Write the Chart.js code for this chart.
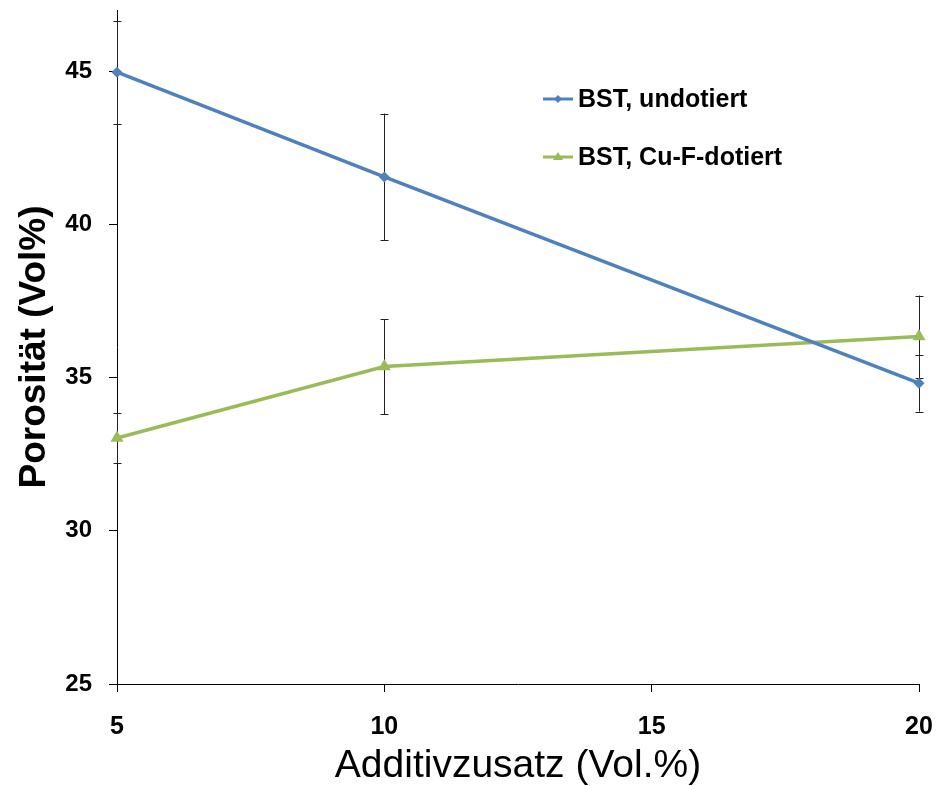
<!DOCTYPE html>
<html>
<head>
<meta charset="utf-8">
<script src="https://cdn.jsdelivr.net/npm/chart.js@4"></script>
<style>
  html, body { margin: 0; padding: 0; background: #fff; }
  #chart { display: block; }
</style>
</head>
<body>
<canvas id="chart" width="941" height="786"></canvas>
<script>
// Werte
const additiv = [5, 10, 20];
const undotiert = [44.97, 41.55, 34.82];
const undotiertFehler = [1.68, 2.07, 0.93];
const cuFdotiert = [33.03, 35.36, 36.34];
const cuFdotiertFehler = [0.82, 1.55, 1.34];
const xTicks = [5, 10, 15, 20];
const yTicks = [25, 30, 35, 40, 45];
const serienNamen = ['BST, undotiert', 'BST, Cu-F-dotiert'];

const BLAU = '#4F81BD';
const GRUEN = '#9BBB59';
const SCHRIFT = "'Liberation Sans', Arial, sans-serif";

// Fehlerbalken (nicht in Chart.js enthalten)
const fehlerBalken = {
    id: 'fehlerBalken',
    beforeDatasetsDraw(chart) {
        const ctx = chart.ctx;
        const xs = chart.scales.x, ys = chart.scales.y;
        const fehler = [undotiertFehler, cuFdotiertFehler];
        ctx.save();
        ctx.strokeStyle = '#222';
        ctx.lineWidth = 1;
        chart.data.datasets.forEach((ds, i) => {
            ds.data.forEach((p, j) => {
                const px = Math.round(xs.getPixelForValue(p.x)) + 0.5;
                const y1 = ys.getPixelForValue(p.y + fehler[i][j]);
                const y2 = ys.getPixelForValue(p.y - fehler[i][j]);
                ctx.beginPath();
                ctx.moveTo(px, y1); ctx.lineTo(px, y2);
                ctx.moveTo(px - 4, Math.round(y1) + 0.5); ctx.lineTo(px + 4, Math.round(y1) + 0.5);
                ctx.moveTo(px - 4, Math.round(y2) + 0.5); ctx.lineTo(px + 4, Math.round(y2) + 0.5);
                ctx.stroke();
            });
        });
        ctx.restore();
    }
};

// Legende im Diagrammbereich
const legende = {
    id: 'legende',
    afterDraw(chart) {
        const ctx = chart.ctx;
        const zeilen = [
            { text: serienNamen[0], farbe: BLAU, form: 'raute', y: 99 },
            { text: serienNamen[1], farbe: GRUEN, form: 'dreieck', y: 157 }
        ];
        ctx.save();
        zeilen.forEach(z => {
            ctx.strokeStyle = z.farbe;
            ctx.fillStyle = z.farbe;
            ctx.lineWidth = 3;
            ctx.beginPath();
            ctx.moveTo(543, z.y); ctx.lineTo(573, z.y);
            ctx.stroke();
            ctx.beginPath();
            if (z.form === 'raute') {
                ctx.moveTo(558, z.y - 4); ctx.lineTo(562, z.y); ctx.lineTo(558, z.y + 4); ctx.lineTo(554, z.y);
            } else {
                ctx.moveTo(558, z.y - 5); ctx.lineTo(563, z.y + 3); ctx.lineTo(553, z.y + 3);
            }
            ctx.closePath();
            ctx.fill();
            ctx.fillStyle = '#000';
            ctx.font = 'bold 25px ' + SCHRIFT;
            ctx.textBaseline = 'middle';
            ctx.textAlign = 'left';
            ctx.fillText(z.text, 578, z.y + 1);
        });
        ctx.restore();
    }
};

const ctx = document.getElementById('chart').getContext('2d');
new Chart(ctx, {
    type: 'line',
    data: {
        datasets: [{
            label: serienNamen[0],
            data: additiv.map((x, i) => ({ x: x, y: undotiert[i] })),
            borderColor: BLAU,
            backgroundColor: BLAU,
            borderWidth: 3.5,
            pointStyle: 'rectRot',
            pointRadius: 5.5,
            pointBorderWidth: 0,
            tension: 0,
            clip: false
        }, {
            label: serienNamen[1],
            data: additiv.map((x, i) => ({ x: x, y: cuFdotiert[i] })),
            borderColor: GRUEN,
            backgroundColor: GRUEN,
            borderWidth: 3.5,
            pointStyle: 'triangle',
            pointRadius: 7.5,
            pointBorderWidth: 0,
            tension: 0,
            clip: false
        }]
    },
    options: {
        responsive: false,
        animation: false,
        layout: { padding: { top: 10, right: 22, left: 0, bottom: 0 } },
        plugins: {
            legend: { display: false },
            tooltip: { enabled: false }
        },
        scales: {
            x: {
                type: 'linear',
                min: 5,
                max: 20,
                afterFit: s => { s.height = 102; s.paddingLeft = 0; s.paddingRight = 0; },
                afterBuildTicks: s => { s.ticks = xTicks.map(v => ({ value: v })); },
                grid: { drawOnChartArea: false, drawTicks: true, tickLength: 8, color: '#000' },
                border: { display: true, color: '#000', width: 1 },
                ticks: {
                    color: '#000',
                    padding: 20,
                    maxRotation: 0,
                    font: { family: SCHRIFT, size: 25, weight: 'bold' }
                },
                title: {
                    display: true,
                    text: 'Additivzusatz (Vol.%)',
                    color: '#000',
                    padding: { top: 0, bottom: 0 },
                    font: { family: SCHRIFT, size: 39, lineHeight: 1 }
                }
            },
            y: {
                min: 25,
                max: 47,
                afterFit: s => { s.width = 117; s.paddingTop = 0; s.paddingBottom = 0; },
                afterBuildTicks: s => { s.ticks = yTicks.map(v => ({ value: v })); },
                grid: { drawOnChartArea: false, drawTicks: true, tickLength: 8, color: '#000' },
                border: { display: true, color: '#000', width: 1 },
                ticks: {
                    color: '#000',
                    padding: 17,
                    font: { family: SCHRIFT, size: 24, weight: 'bold' }
                },
                title: {
                    display: true,
                    text: 'Porosität (Vol%)',
                    color: '#000',
                    padding: { top: 16, bottom: 0 },
                    font: { family: SCHRIFT, size: 37, weight: 'bold', lineHeight: 1 }
                }
            }
        }
    },
    plugins: [fehlerBalken, legende]
});
</script>
</body>
</html>
